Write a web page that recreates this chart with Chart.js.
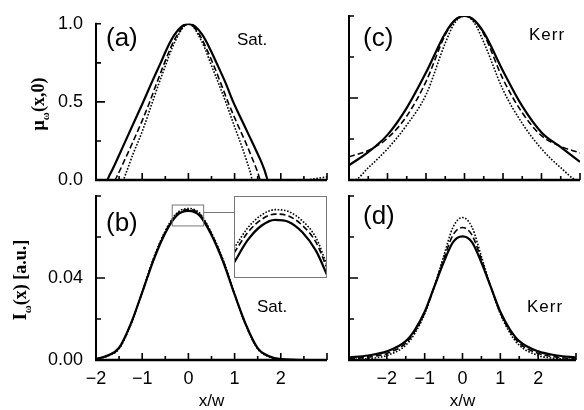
<!DOCTYPE html>
<html>
<head>
<meta charset="utf-8">
<script src="https://cdn.jsdelivr.net/npm/chart.js@4.4.0/dist/chart.umd.min.js"></script>
<style>
  body { margin: 0; background: #fff; }
  #wrap { position: relative; width: 584px; height: 410px; overflow: hidden; background: #fff; }
  #wrap canvas { position: absolute; left: 0; top: 0; }
  .lbl { position: absolute; font-family: "Liberation Sans", Arial, sans-serif; color: #000; white-space: nowrap; line-height: 1; }
  .big { font-size: 26px; }
  .small { font-size: 17px; }
  .ytitle { position: absolute; font-family: "Liberation Serif", "Times New Roman", serif; font-weight: bold; font-size: 18px;
            white-space: nowrap; line-height: 1; transform: translate(-50%, -50%) rotate(-90deg); }
  .ytitle sub { font-size: 11px; }
</style>
</head>
<body>
<div id="wrap">
  <canvas id="ca" width="584" height="410"></canvas>
  <canvas id="cb" width="584" height="410"></canvas>
  <canvas id="cc" width="584" height="410"></canvas>
  <canvas id="cd" width="584" height="410"></canvas>
  <canvas id="ci" width="584" height="410"></canvas>

  <div class="lbl big" style="left:106px; top:24px;">(a)</div>
  <div class="lbl small" style="left:237px; top:31px;">Sat.</div>
  <div class="lbl big" style="left:106px; top:209px;">(b)</div>
  <div class="lbl small" style="left:257px; top:298px;">Sat.</div>
  <div class="lbl big" style="left:363px; top:24px;">(c)</div>
  <div class="lbl small" style="left:529px; top:26px; letter-spacing:1px;">Kerr</div>
  <div class="lbl big" style="left:363px; top:202px;">(d)</div>
  <div class="lbl small" style="left:527px; top:298px; letter-spacing:1px;">Kerr</div>

  <div class="ytitle" style="left:40px; top:104px;">μ<sub>ω</sub>(x,0)</div>
  <div class="ytitle" style="left:22px; top:280px;">I<sub>ω</sub>(x) [a.u.]</div>
</div>

<script>
// ---- (a) saturable: normalized field mu(x,0), points [x/w, value] ----
const aSolid = [[-2,0],[-1.77,0],[-1.7,0.035],[-1.6,0.095],[-1.4,0.225],[-1.2,0.355],[-1.0,0.485],[-0.8,0.62],
  [-0.6,0.75],[-0.45,0.85],[-0.3,0.93],[-0.15,0.982],[0,1],[0.15,0.982],[0.3,0.93],[0.45,0.85],[0.6,0.755],
  [0.8,0.625],[0.97,0.5],[1.2,0.355],[1.4,0.23],[1.55,0.135],[1.64,0.07],[1.73,0],[3,0]];
const aDashed = [[-2,0],[-1.6,0],[-1.52,0.04],[-1.4,0.115],[-1.2,0.245],[-1.0,0.38],[-0.85,0.49],[-0.68,0.625],
  [-0.53,0.74],[-0.4,0.835],[-0.27,0.915],[-0.13,0.975],[0,1],[0.13,0.975],[0.27,0.915],[0.4,0.835],[0.54,0.74],
  [0.7,0.62],[0.87,0.49],[1.05,0.365],[1.24,0.24],[1.4,0.125],[1.5,0.05],[1.56,0],[3,0]];
const aDotted = [[-2,0],[-1.42,0],[-1.35,0.045],[-1.2,0.165],[-1.0,0.31],[-0.8,0.48],[-0.63,0.625],[-0.48,0.745],
  [-0.36,0.84],[-0.24,0.915],[-0.12,0.975],[0,1],[0.12,0.975],[0.24,0.915],[0.36,0.84],[0.49,0.74],[0.65,0.62],
  [0.82,0.49],[1.0,0.34],[1.15,0.22],[1.27,0.115],[1.34,0.05],[1.39,0],[2.5,0],[2.7,0.006],[2.85,0.013],[3,0.02]];

// ---- (b) saturable: intensity I(x) ----
const bX      = [-2, -1.75, -1.5, -1.25, -1, -0.75, -0.5, -0.25, 0, 0.25, 0.5, 0.75, 1, 1.25, 1.5, 1.75, 2, 2.5, 3];
const bSolid  = [0.0005,0.0022,0.006,0.0175,0.033,0.049,0.062,0.0705,0.0727,0.0703,0.061,0.048,0.032,0.017,0.0058,0.0018,0.0004,0,0];
const bDashed = [0.0005,0.002,0.0058,0.0173,0.033,0.0495,0.0625,0.0712,0.0734,0.071,0.0615,0.0485,0.032,0.0168,0.0056,0.0016,0.0003,0,0];
const bDotted = [0.0004,0.0018,0.0055,0.017,0.033,0.05,0.063,0.0717,0.0739,0.0715,0.062,0.049,0.0322,0.0165,0.0054,0.0015,0.0003,0,0];

// ---- inset of (b): zoom on the peak ----
const inX      = [-0.35, -0.25, -0.15, -0.05, 0.05, 0.15, 0.25, 0.33];
const inSolid  = [0.0673, 0.0701, 0.0719, 0.07264, 0.07238, 0.07109, 0.06877, 0.0658];
const inDashed = [0.06851, 0.07105, 0.07267, 0.07335, 0.07311, 0.07194, 0.06983, 0.06666];
const inDotted = [0.0691, 0.07162, 0.07322, 0.0739, 0.07366, 0.0725, 0.0704, 0.067];
const inXRange = [-0.35, 0.33];
const inYRange = [0.0654, 0.0756];

// ---- (c) Kerr: mu(x,0) ----
const cSolid = [[-3,0.09],[-2.5,0.17],[-2.0,0.275],[-1.5,0.44],[-1.0,0.655],[-0.5,0.895],[-0.25,0.975],[0,1],
  [0.25,0.975],[0.5,0.9],[1.0,0.665],[1.5,0.45],[2.0,0.29],[2.5,0.2],[3,0.11]];
const cDashed = [[-3,0.142],[-2.5,0.18],[-2.0,0.255],[-1.5,0.39],[-1.0,0.6],[-0.5,0.885],[-0.25,0.972],[0,1],
  [0.25,0.972],[0.5,0.89],[1.0,0.615],[1.5,0.41],[2.0,0.27],[2.5,0.205],[3,0.165]];
const cDotted = [[-3,0],[-2.87,0],[-2.5,0.075],[-2.0,0.19],[-1.5,0.335],[-1.0,0.52],[-0.5,0.835],[-0.25,0.96],[0,1],
  [0.25,0.96],[0.5,0.84],[1.0,0.55],[1.5,0.345],[2.0,0.19],[2.5,0.075],[2.95,0],[3,0]];

// ---- (d) Kerr: intensity I(x) ----
const dX      = [-3, -2.5, -2, -1.5, -1.25, -1, -0.75, -0.5, -0.25, 0, 0.25, 0.5, 0.75, 1, 1.25, 1.5, 2, 2.5, 3];
const dSolid  = [0.0012,0.0022,0.0042,0.0092,0.015,0.0235,0.0355,0.0475,0.0575,0.0603,0.0575,0.0475,0.0355,0.0235,0.015,0.0092,0.0042,0.0022,0.0012];
const dDashed = [0.0006,0.0014,0.0032,0.0082,0.0142,0.023,0.0355,0.049,0.061,0.0646,0.061,0.049,0.0355,0.023,0.0142,0.0082,0.0032,0.0014,0.0006];
const dDotted = [0.0002,0.0007,0.0022,0.0072,0.0133,0.0225,0.0355,0.0505,0.0648,0.0695,0.0648,0.0505,0.0355,0.0225,0.0133,0.0072,0.0022,0.0007,0.0002];

const FONT = '"Liberation Sans", Arial, sans-serif';
const near = (v, step) => Math.abs(v / step - Math.round(v / step)) < 1e-6;
const minus = v => (v < 0 ? '\u2212' + Math.abs(v) : String(v));

const lineKinds = {
  solid:  { borderWidth: 2.2, borderDash: [] },
  dashed: { borderWidth: 1.6, borderDash: [6, 3] },
  dotted: { borderWidth: 1.6, borderDash: [1.6, 1.6] }
};
function pairs(pts) { return pts.map(p => ({ x: p[0], y: p[1] })); }
function zipXY(xs, ys) { return xs.map((x, i) => ({ x: x, y: ys[i] })); }
function ds(data, kind) {
  return Object.assign({ data: data, borderColor: '#000', pointRadius: 0, fill: false,
    cubicInterpolationMode: 'monotone' }, lineKinds[kind]);
}

// inward ticks + axis lines
const frame = {
  id: 'frame',
  afterDraw(chart, args, o) {
    if (!o || !o.on) return;
    const { ctx, chartArea: a, scales } = chart;
    const x = scales.x, y = scales.y;
    ctx.save();
    ctx.strokeStyle = '#000';
    ctx.lineWidth = 1.6;
    ctx.beginPath();
    x.ticks.forEach(t => {
      const px = x.getPixelForValue(t.value);
      const len = near(t.value, 1) ? 7 : 4;
      ctx.moveTo(px, a.bottom); ctx.lineTo(px, a.bottom - len);
    });
    y.ticks.forEach(t => {
      const py = y.getPixelForValue(t.value);
      let len = near(t.value, o.yMajor) ? 9 : 5;
      if (Math.abs(t.value - y.max) < 1e-9) len = 5;
      ctx.moveTo(a.left, py); ctx.lineTo(a.left + len, py);
    });
    ctx.stroke();
    ctx.lineWidth = 2;
    ctx.beginPath();
    ctx.moveTo(a.left, a.top - 1); ctx.lineTo(a.left, a.bottom);
    ctx.stroke();
    ctx.lineWidth = 2.6;
    ctx.beginPath();
    ctx.moveTo(a.left - 1, a.bottom); ctx.lineTo(a.right, a.bottom);
    ctx.stroke();

    if (o.zoomBox) {
      const x0 = x.getPixelForValue(inXRange[0]), x1 = x.getPixelForValue(inXRange[1]);
      const y0 = y.getPixelForValue(inYRange[1]), y1 = y.getPixelForValue(inYRange[0]);
      ctx.strokeStyle = '#777';
      ctx.lineWidth = 1;
      ctx.strokeRect(x0, y0, x1 - x0, y1 - y0);
      ctx.beginPath();
      const ym = Math.round((y0 + y1) / 2) - 2.5;
      ctx.moveTo(x1, ym); ctx.lineTo(234, ym);
      ctx.stroke();
    }
    ctx.restore();
  }
};

const boxFrame = {
  id: 'boxFrame',
  beforeDraw(chart, args, o) {
    if (!o || !o.on) return;
    const { ctx, chartArea: a } = chart;
    ctx.save();
    ctx.fillStyle = '#fff';
    ctx.fillRect(a.left, a.top, a.right - a.left, a.bottom - a.top);
    ctx.restore();
  },
  afterDraw(chart, args, o) {
    if (!o || !o.on) return;
    const { ctx, chartArea: a } = chart;
    ctx.save();
    ctx.strokeStyle = '#777';
    ctx.lineWidth = 1;
    ctx.strokeRect(a.left + 0.5, a.top + 0.5, a.right - a.left - 1, a.bottom - a.top - 1);
    ctx.restore();
  }
};

function panel(id, datasets, cfg) {
  return new Chart(document.getElementById(id), {
    type: 'line',
    data: { datasets: datasets },
    plugins: [frame],
    options: {
      responsive: false, animation: false, events: [], devicePixelRatio: 1,
      layout: { autoPadding: false, padding: cfg.pad },
      plugins: { legend: { display: false }, tooltip: { enabled: false },
        frame: { on: true, yMajor: cfg.yMajor, zoomBox: !!cfg.zoomBox } },
      scales: {
        x: {
          type: 'linear', min: cfg.xMin, max: cfg.xMax,
          grid: { display: false, drawTicks: false }, border: { display: false },
          afterFit: s => { s.height = cfg.xH; },
          ticks: {
            display: cfg.xLabels, stepSize: 0.5, autoSkip: false, maxRotation: 0, padding: 8,
            color: '#000', font: { family: FONT, size: 18 },
            callback: v => (near(v, 1) && Math.abs(v) < 2.5 ? minus(v) : '')
          },
          title: { display: cfg.xLabels, text: 'x/w', color: '#000', font: { family: FONT, size: 17 },
            padding: { top: 0, bottom: -2 } }
        },
        y: {
          type: 'linear', min: 0, max: cfg.yMax,
          grid: { display: false, drawTicks: false }, border: { display: false },
          afterFit: s => { s.width = cfg.yW; },
          ticks: {
            display: cfg.yLabels, stepSize: cfg.yStep, autoSkip: false, padding: 13,
            color: '#000', font: { family: FONT, size: 18 },
            callback: v => (near(v, cfg.yMajor) && v < cfg.yMax - 1e-9 || (cfg.yMax === 1 && v === 1)
              ? v.toFixed(cfg.yDigits) : '')
          }
        }
      }
    }
  });
}

panel('ca', [ds(pairs(aSolid), 'solid'), ds(pairs(aDashed), 'dashed'), ds(pairs(aDotted), 'dotted')], {
  pad: { left: 0, top: 16, right: 257, bottom: 230 }, xMin: -2, xMax: 3, xH: 0, yW: 96,
  xLabels: false, yLabels: true, yMax: 1, yStep: 0.25, yMajor: 0.5, yDigits: 1
});
panel('cb', [ds(zipXY(bX, bSolid), 'solid'), ds(zipXY(bX, bDashed), 'dashed'), ds(zipXY(bX, bDotted), 'dotted')], {
  pad: { left: 0, top: 196, right: 257, bottom: 0 }, xMin: -2, xMax: 3, xH: 50, yW: 96,
  xLabels: true, yLabels: true, yMax: 0.08, yStep: 0.02, yMajor: 0.04, yDigits: 2, zoomBox: true
});
panel('cc', [ds(pairs(cSolid), 'solid'), ds(pairs(cDashed), 'dashed'), ds(pairs(cDotted), 'dotted')], {
  pad: { left: 300, top: 16, right: 4, bottom: 230 }, xMin: -3, xMax: 3, xH: 0, yW: 49,
  xLabels: false, yLabels: false, yMax: 1, yStep: 0.25, yMajor: 0.5, yDigits: 1
});
panel('cd', [ds(zipXY(dX, dSolid), 'solid'), ds(zipXY(dX, dDashed), 'dashed'), ds(zipXY(dX, dDotted), 'dotted')], {
  pad: { left: 300, top: 196, right: 4, bottom: 0 }, xMin: -3, xMax: 3, xH: 50, yW: 49,
  xLabels: true, yLabels: false, yMax: 0.08, yStep: 0.02, yMajor: 0.04, yDigits: 2
});

// inset
new Chart(document.getElementById('ci'), {
  type: 'line',
  data: { datasets: [ds(zipXY(inX, inSolid), 'solid'), ds(zipXY(inX, inDashed), 'dashed'), ds(zipXY(inX, inDotted), 'dotted')] },
  plugins: [boxFrame],
  options: {
    responsive: false, animation: false, events: [], devicePixelRatio: 1,
    layout: { autoPadding: false, padding: { left: 234, top: 196, right: 257, bottom: 132 } },
    plugins: { legend: { display: false }, tooltip: { enabled: false }, boxFrame: { on: true } },
    scales: {
      x: { type: 'linear', display: false, min: inXRange[0], max: inXRange[1] },
      y: { type: 'linear', display: false, min: inYRange[0], max: inYRange[1] }
    }
  }
});
</script>
</body>
</html>
